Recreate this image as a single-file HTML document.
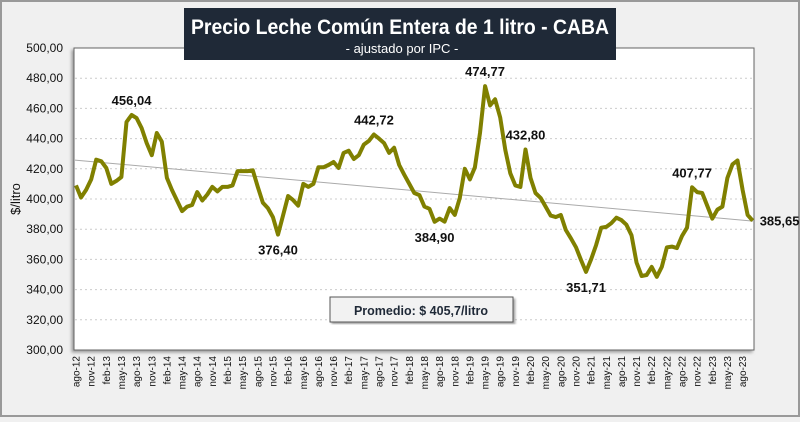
<!DOCTYPE html>
<html><head><meta charset="utf-8"><style>
body{margin:0;width:800px;height:417px;overflow:hidden;background:#f0f0f0;font-family:"Liberation Sans",Arial,sans-serif}
</style></head><body>
<svg width="800" height="417" xmlns="http://www.w3.org/2000/svg">
<defs><filter id="sh" x="-10%" y="-10%" width="130%" height="130%"><feDropShadow dx="-2" dy="2" stdDeviation="1.5" flood-color="#777" flood-opacity="0.7"/></filter>
<filter id="sh2"><feDropShadow dx="2" dy="2" stdDeviation="1" flood-color="#888" flood-opacity="0.7"/></filter></defs>
<rect x="1" y="1" width="798" height="415" fill="#f0f0f0" stroke="#999" stroke-width="2"/>
<rect x="74" y="48" width="680" height="302" fill="#fff" stroke="#666" stroke-width="1" filter="url(#sh)"/>
<g id="grid"></g>
<g id="yt"></g>
<g id="xt"></g>
<line id="trend" stroke="#aaa" stroke-width="1"/>
<path id="line" fill="none" stroke="#808000" stroke-width="4" stroke-linejoin="round"/>
<g id="lbl" font-size="13" font-weight="bold" fill="#111"></g>
<rect x="184" y="8" width="432" height="52" fill="#1f2937"/>
<text x="191" y="34" fill="#fff" font-size="21" font-weight="bold" textLength="418" lengthAdjust="spacingAndGlyphs">Precio Leche Común Entera de 1 litro - CABA</text>
<text x="402" y="53" text-anchor="middle" fill="#fff" font-size="13">- ajustado por IPC -</text>
<text transform="translate(20,199) rotate(-90)" text-anchor="middle" font-size="13" fill="#111">$/litro</text>
<rect x="330" y="297" width="183" height="25" fill="#f2f2f2" stroke="#555" filter="url(#sh2)"/>
<text x="421" y="315" text-anchor="middle" font-size="12.5" font-weight="bold" fill="#1f2937">Promedio: $ 405,7/litro</text>
</svg>
<script>
const values=[409,401,406,413,426,425,420.5,410,412,414.6,451,455.6,453.6,447,437,429,443.7,438,414,406,399,392,395,396,404.6,399,403,408,405,408,408,409,418.5,418.5,418.5,419,408,397.5,394,388,376.4,389,402,399.3,395.6,410,408,410,421,421,422.5,424.5,420.5,430.5,432,426.5,429,436,438.5,442.72,440,437,430.5,434,422.5,416,410,404,402.6,395,393.5,384.9,387,385,394,389.5,400.7,420,413,421,443.7,474.77,462,466,454,432.5,417,409,408,432.8,414,404,400.7,395,389,388,389.5,379.5,374,368,359.6,351.71,360,369.5,381,381.5,384,387.6,386,383,376,358,349,349.7,355,348.5,355,368,368.5,367.5,375.5,381,407.77,404.6,404,395.4,387,393,395,414,423,425.5,406,389.5,385.65];
const yTicks=[300,320,340,360,380,400,420,440,460,480,500];
const months=["ago","nov","feb","may"];
const labelIdx=[11,40,59,71,81,89,101,122,134];
const labelText=["456,04","376,40","442,72","384,90","474,77","432,80","351,71","407,77","385,65"];
const NS="http://www.w3.org/2000/svg";
const X=i=>76+5.05*i, Y=v=>350-(v-300)*1.51;
function mk(t,a,p){const e=document.createElementNS(NS,t);for(const k in a)e.setAttribute(k,a[k]);document.getElementById(p).appendChild(e);return e;}
yTicks.forEach(v=>{
 if(v>300&&v<500){const g=mk('line',{x1:75,x2:753,y1:Y(v),y2:Y(v),stroke:'#ccc','stroke-dasharray':'2,3'},'grid');
 
 }
 const t=mk('text',{x:63,y:Y(v)+4,'text-anchor':'end','font-size':12,fill:'#111'},'yt');t.textContent=v.toFixed(2).replace('.',',');
 
 
});
for(let k=0;k<45;k++){const i=k*3;const yr=12+Math.floor((k*3+7)/12);
 const t=mk('text',{transform:`translate(${X(i)+3.5},356) rotate(-90)`,'text-anchor':'end','font-size':10,fill:'#111'},'xt');
 t.textContent=months[k%4]+'-'+yr;
 
 }
document.getElementById('line').setAttribute('d',values.map((v,i)=>(i?'L':'M')+X(i).toFixed(1)+' '+Y(v).toFixed(1)).join(''));
const n=values.length;let sx=0,sy=0,sxx=0,sxy=0;values.forEach((v,i)=>{sx+=i;sy+=v;sxx+=i*i;sxy+=i*v;});
const b=(n*sxy-sx*sy)/(n*sxx-sx*sx),a=(sy-b*sx)/n;
const tr=document.getElementById('trend');tr.setAttribute('x1',75);tr.setAttribute('y1',Y(a+b*(-0.2)));tr.setAttribute('x2',753);tr.setAttribute('y2',Y(a+b*(n-1)));
labelIdx.forEach((i,k)=>{const v=values[i];const hi=[0,2,4,5,7].includes(k);
 let x=X(i),y=hi?Y(v)-10:Y(v)+20,anc='middle';
 if(k===8){x=X(i)+7;y=Y(v)+5;anc='start';}
 const t=mk('text',{x:x,y:y,'text-anchor':anc},'lbl');t.textContent=labelText[k];
 
 });
</script>
</body></html>
